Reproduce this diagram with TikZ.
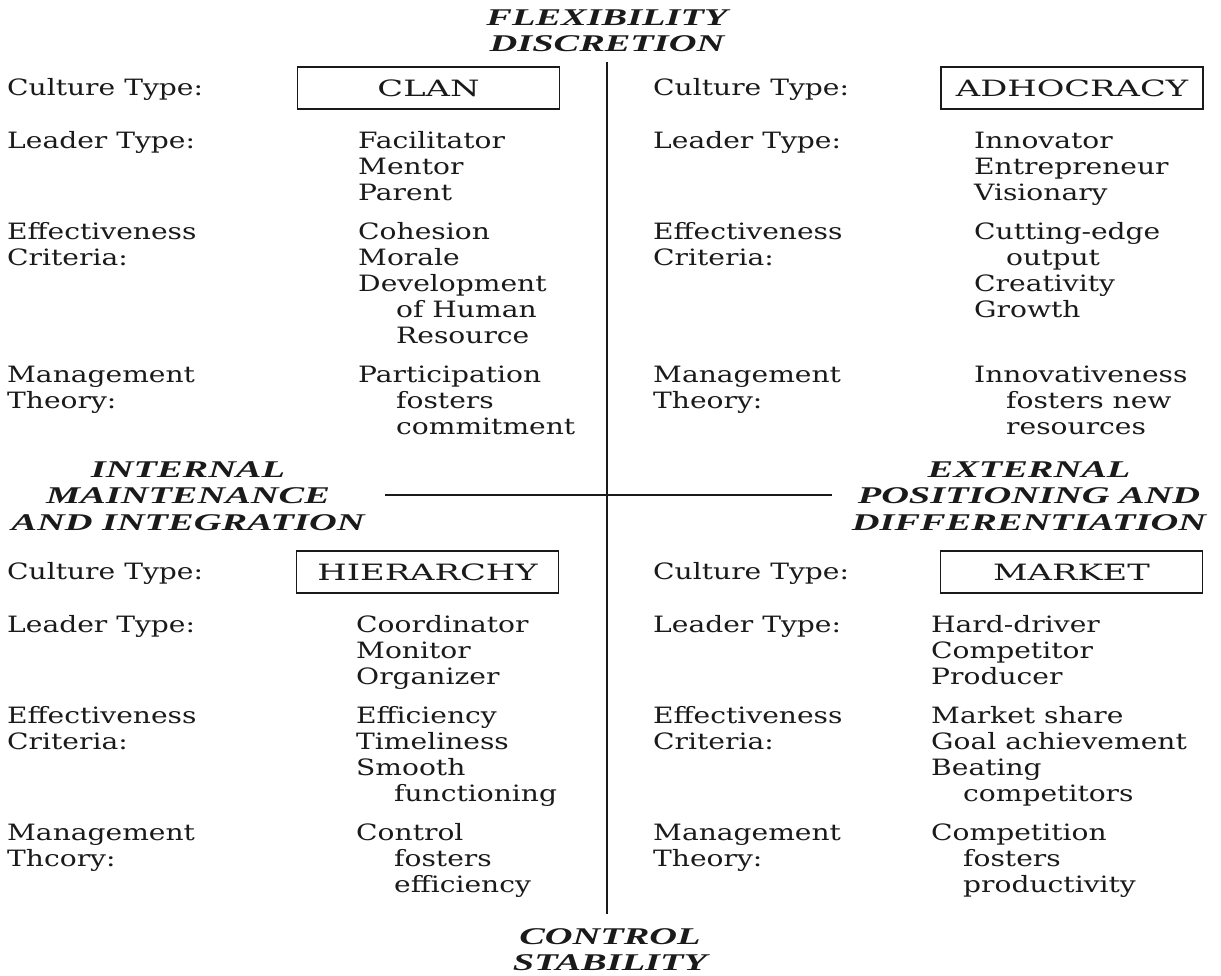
\documentclass[tikz,border=0pt]{standalone}
\usepackage{fontspec}
\setmainfont[FakeStretch=1.25]{DejaVu Serif}
\newfontfamily\boxfamily[FakeStretch=1.5]{DejaVu Serif}
\newfontfamily\axisfamily[FakeStretch=1.6]{Liberation Serif}
\definecolor{ink}{HTML}{1A1A1A}
% stacked lines, baseline on the first line
\newcommand\rows[1]{\begin{tabular}[t]{@{}l@{}}#1\end{tabular}}
\newcommand\crows[1]{\begin{tabular}[t]{@{}c@{}}#1\end{tabular}}
\newcommand\indL{\hspace*{38pt}}
\newcommand\indR{\hspace*{32pt}}
\tikzset{
  body/.style={anchor=base west, inner sep=0pt, text=ink,
    font=\fontsize{22.5}{26}\selectfont},
  axislabel/.style={anchor=base, inner sep=0pt, text=ink,
    font=\axisfamily\bfseries\itshape\fontsize{24}{26.5}\selectfont},
  typebox/.style={draw=ink, line width=1.1pt, inner sep=0pt,
    minimum width=262pt, minimum height=42pt, text=ink,
    font=\boxfamily\fontsize{22.5}{26}\selectfont},
  axis/.style={draw=ink, line width=1.4pt}
}
\begin{document}
\begin{tikzpicture}[x=1pt,y=-1pt]
\useasboundingbox (0,0) rectangle (1221,975);

% axis titles
\node[axislabel] (flex) at (607,25) {\crows{FLEXIBILITY\\DISCRETION}};
\node[axislabel] (ctrl) at (610,944) {\crows{CONTROL\\STABILITY}};
\node[axislabel] (intl) at (188,477) {\crows{INTERNAL\\MAINTENANCE\\AND INTEGRATION}};
\node[axislabel] (extl) at (1029,477) {\crows{EXTERNAL\\POSITIONING AND\\DIFFERENTIATION}};

% axes
\coordinate (vtop) at (607,62);
\coordinate (vbot) at (607,914);
\coordinate (hleft) at (385,495);
\coordinate (hright) at (832,495);
\draw[axis] (vtop) -- (vbot);
\draw[axis] (hleft) -- (hright);

% upper left quadrant
\node[body] (tlct) at (7,95) {Culture Type:};
\node[typebox] (clan) at (428.5,88) {CLAN};
\node[body] (tllt) at (7,148) {Leader Type:};
\node[body] (tllv) at (358,148) {\rows{Facilitator\\Mentor\\Parent}};
\node[body] (tlec) at (7,239) {\rows{Effectiveness\\Criteria:}};
\node[body] (tlev) at (358,239) {\rows{Cohesion\\Morale\\Development\\\indL of Human\\\indL Resource}};
\node[body] (tlmt) at (7,382) {\rows{Management\\Theory:}};
\node[body] (tlmv) at (358,382) {\rows{Participation\\\indL fosters\\\indL commitment}};

% upper right quadrant
\node[body] (trct) at (653,95) {Culture Type:};
\node[typebox] (adho) at (1072,88) {ADHOCRACY};
\node[body] (trlt) at (653,148) {Leader Type:};
\node[body] (trlv) at (974,148) {\rows{Innovator\\Entrepreneur\\Visionary}};
\node[body] (trec) at (653,239) {\rows{Effectiveness\\Criteria:}};
\node[body] (trev) at (974,239) {\rows{Cutting-edge\\\indR output\\Creativity\\Growth}};
\node[body] (trmt) at (653,382) {\rows{Management\\Theory:}};
\node[body] (trmv) at (974,382) {\rows{Innovativeness\\\indR fosters new\\\indR resources}};

% lower left quadrant
\node[body] (blct) at (7,579) {Culture Type:};
\node[typebox] (hier) at (427.5,572) {HIERARCHY};
\node[body] (bllt) at (7,632) {Leader Type:};
\node[body] (bllv) at (356,632) {\rows{Coordinator\\Monitor\\Organizer}};
\node[body] (blec) at (7,723) {\rows{Effectiveness\\Criteria:}};
\node[body] (blev) at (356,723) {\rows{Efficiency\\Timeliness\\Smooth\\\indL functioning}};
\node[body] (blmt) at (7,840) {\rows{Management\\Thcory:}};
\node[body] (blmv) at (356,840) {\rows{Control\\\indL fosters\\\indL efficiency}};

% lower right quadrant
\node[body] (brct) at (653,579) {Culture Type:};
\node[typebox] (mkt) at (1071.5,572) {MARKET};
\node[body] (brlt) at (653,632) {Leader Type:};
\node[body] (brlv) at (931,632) {\rows{Hard-driver\\Competitor\\Producer}};
\node[body] (brec) at (653,723) {\rows{Effectiveness\\Criteria:}};
\node[body] (brev) at (931,723) {\rows{Market share\\Goal achievement\\Beating\\\indR competitors}};
\node[body] (brmt) at (653,840) {\rows{Management\\Theory:}};
\node[body] (brmv) at (931,840) {\rows{Competition\\\indR fosters\\\indR productivity}};
\end{tikzpicture}
\end{document}
